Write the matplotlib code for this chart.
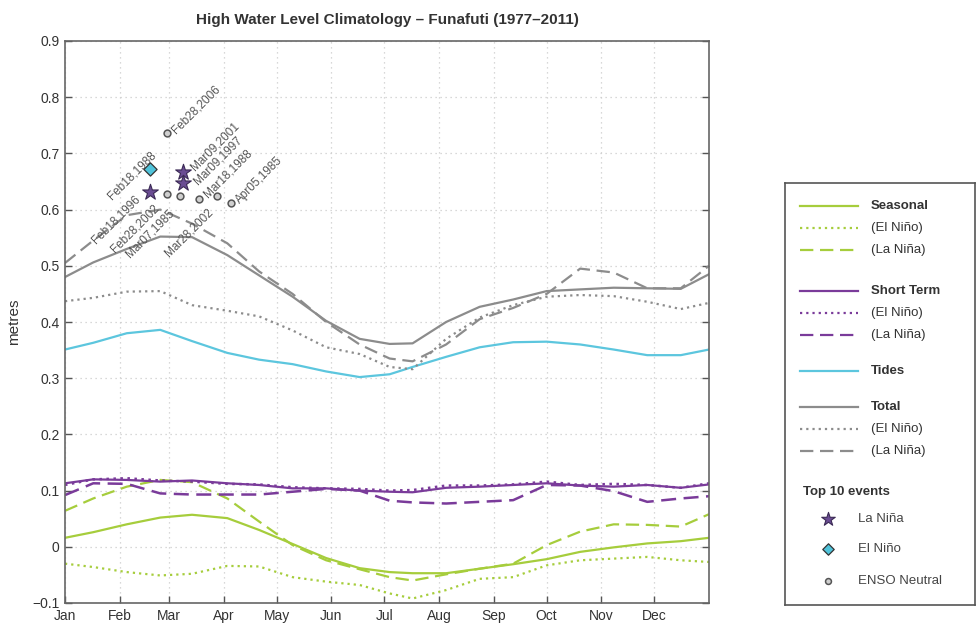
import matplotlib.pyplot as plt
from matplotlib.lines import Line2D

plt.rcParams['font.family'] = ['Liberation Sans', 'DejaVu Sans']

# day of year (Jan 1 = 1) of each sample
days = [1, 17, 36, 55, 73, 93, 111, 130, 149, 168, 185, 198, 217, 236, 255, 274, 293, 312, 331, 350, 366]

total = [0.480, 0.506, 0.530, 0.552, 0.551, 0.519, 0.483, 0.445, 0.402, 0.370, 0.361, 0.362, 0.400, 0.427,
         0.440, 0.455, 0.458, 0.461, 0.460, 0.459, 0.485]
total_nino = [0.437, 0.443, 0.454, 0.455, 0.430, 0.420, 0.410, 0.385, 0.355, 0.343, 0.320, 0.316, 0.370, 0.408,
              0.430, 0.445, 0.448, 0.446, 0.436, 0.423, 0.434]
total_nina = [0.505, 0.545, 0.590, 0.600, 0.575, 0.540, 0.490, 0.450, 0.400, 0.360, 0.335, 0.330, 0.360, 0.405,
              0.425, 0.450, 0.495, 0.488, 0.460, 0.460, 0.500]
tides = [0.351, 0.363, 0.380, 0.386, 0.366, 0.345, 0.333, 0.325, 0.312, 0.302, 0.307, 0.320, 0.338, 0.355,
         0.364, 0.365, 0.360, 0.351, 0.341, 0.341, 0.351]
seasonal = [0.016, 0.026, 0.040, 0.052, 0.057, 0.051, 0.030, 0.005, -0.020, -0.038, -0.045, -0.047, -0.047, -0.039,
            -0.031, -0.022, -0.009, -0.001, 0.006, 0.010, 0.016]
seasonal_nino = [-0.030, -0.036, -0.045, -0.051, -0.048, -0.034, -0.035, -0.054, -0.062, -0.068, -0.083, -0.092,
                 -0.077, -0.057, -0.054, -0.033, -0.024, -0.021, -0.018, -0.024, -0.027]
seasonal_nina = [0.064, 0.086, 0.107, 0.119, 0.115, 0.086, 0.045, 0.003, -0.024, -0.040, -0.054, -0.060, -0.049,
                 -0.039, -0.030, 0.003, 0.027, 0.040, 0.039, 0.036, 0.058]
short = [0.113, 0.120, 0.119, 0.116, 0.118, 0.113, 0.110, 0.104, 0.104, 0.100, 0.098, 0.097, 0.105, 0.107,
         0.110, 0.113, 0.109, 0.107, 0.110, 0.105, 0.111]
short_nino = [0.110, 0.120, 0.122, 0.118, 0.116, 0.112, 0.111, 0.106, 0.104, 0.103, 0.100, 0.101, 0.109, 0.109,
              0.111, 0.116, 0.110, 0.112, 0.110, 0.105, 0.113]
short_nina = [0.092, 0.113, 0.112, 0.095, 0.093, 0.093, 0.093, 0.098, 0.103, 0.100, 0.082, 0.079, 0.077, 0.080,
              0.083, 0.110, 0.109, 0.099, 0.080, 0.086, 0.090]

# top 10 events
ev_labels = ['Feb18,1988', 'Feb18,1996', 'Mar09,2001', 'Mar09,1997', 'Feb28,2006',
             'Feb28,2002', 'Mar07,1985', 'Mar18,1988', 'Mar28,2002', 'Apr05,1985']
ev_days = [49, 49, 68, 68, 59, 59, 66, 77, 87, 95]
ev_vals = [0.673, 0.631, 0.667, 0.647, 0.736, 0.628, 0.625, 0.619, 0.625, 0.611]
ev_type = ['nino', 'nina', 'nina', 'nina', 'neutral', 'neutral', 'neutral', 'neutral', 'neutral', 'neutral']

months = ['Jan', 'Feb', 'Mar', 'Apr', 'May', 'Jun', 'Jul', 'Aug', 'Sep', 'Oct', 'Nov', 'Dec']
month_start = [1, 32, 60, 91, 121, 152, 182, 213, 244, 274, 305, 335]

green = '#a6cd3c'
purple = '#7a3b9a'
cyan = '#5cc6de'
gray = '#8c8c8c'
dot = (0, (1, 1.8))
dash = (0, (6, 3))

fig = plt.figure(figsize=(9.77, 6.25), dpi=100)
ax = fig.add_axes([65 / 977, 1 - 603 / 625, 644 / 977, 562 / 625])

lw = 1.6
ax.plot(days, seasonal_nino, color=green, lw=lw, ls=dot)
ax.plot(days, seasonal_nina, color=green, lw=lw, ls=dash)
ax.plot(days, seasonal, color=green, lw=lw)
ax.plot(days, short_nino, color=purple, lw=1.8, ls=dot)
ax.plot(days, short_nina, color=purple, lw=1.8, ls=dash)
ax.plot(days, short, color=purple, lw=lw)
ax.plot(days, tides, color=cyan, lw=lw)
ax.plot(days, total_nino, color=gray, lw=lw, ls=dot)
ax.plot(days, total_nina, color=gray, lw=lw, ls=dash)
ax.plot(days, total, color=gray, lw=lw)

styles = {
    'nina': dict(marker='*', s=140, facecolor='#6a4c93', edgecolor='#3b2a55', linewidth=0.8),
    'nino': dict(marker='D', s=45, facecolor='#4fc3da', edgecolor='#333333', linewidth=0.9),
    'neutral': dict(marker='o', s=24, facecolor='#cfcfcf', edgecolor='#555555', linewidth=1.1),
}
for k in styles:
    xs = [d for d, t in zip(ev_days, ev_type) if t == k]
    ys = [v for v, t in zip(ev_vals, ev_type) if t == k]
    ax.scatter(xs, ys, zorder=5, **styles[k])

# label placement: (offset in points, horizontal alignment)
ev_offsets = [((3, 11), 'right'), ((-8, -4), 'right'), ((7, 2), 'left'), ((9, 0), 'left'), ((5, 1), 'left'),
              ((-7, -9), 'right'), ((-5, -11), 'right'), ((5, 2), 'left'), ((-4, -11), 'right'), ((5, 1), 'left')]
for lab, d, v, (off, ha) in zip(ev_labels, ev_days, ev_vals, ev_offsets):
    ax.annotate(lab, (d, v), xytext=off, textcoords='offset points', rotation=45,
                rotation_mode='anchor', ha=ha, va='center', fontsize=8.5, color='#555555')

ax.set_xlim(1, 366)
ax.set_ylim(-0.1, 0.9)
ax.set_xticks(month_start)
ax.set_xticklabels(months)
ax.set_yticks([-0.1, 0, 0.1, 0.2, 0.3, 0.4, 0.5, 0.6, 0.7, 0.8, 0.9])
ax.set_yticklabels(['\u22120.1', '0', '0.1', '0.2', '0.3', '0.4', '0.5', '0.6', '0.7', '0.8', '0.9'])
ax.tick_params(direction='in', length=5, width=1, colors='#555555', labelcolor='#333333',
               labelsize=10, right=True, top=False, pad=4)
ax.grid(True, color='#cccccc', ls=(0, (1, 3)), lw=0.9)
for s in ax.spines.values():
    s.set_color('#666666')
    s.set_linewidth(1.2)
ax.set_ylabel('metres', fontsize=11, color='#333333', labelpad=8)
ax.set_title('High Water Level Climatology \u2013 Funafuti (1977\u20132011)',
             fontsize=11, fontweight='bold', color='#333333', pad=12)

# legend drawn in its own box, coordinates in figure pixels
lg = fig.add_axes([785 / 977, 1 - 605 / 625, 190 / 977, 422 / 625])
lg.set_xlim(785, 975)
lg.set_ylim(605, 183)
lg.set_xticks([])
lg.set_yticks([])
for s in lg.spines.values():
    s.set_color('#555555')
    s.set_linewidth(1.2)

line_rows = [
    (206, green, '-', 'Seasonal', True), (228, green, dot, '(El Ni\u00f1o)', False),
    (250, green, dash, '(La Ni\u00f1a)', False),
    (291, purple, '-', 'Short Term', True), (313, purple, dot, '(El Ni\u00f1o)', False),
    (335, purple, dash, '(La Ni\u00f1a)', False),
    (371, cyan, '-', 'Tides', True),
    (407, gray, '-', 'Total', True), (429, gray, dot, '(El Ni\u00f1o)', False),
    (451, gray, dash, '(La Ni\u00f1a)', False),
]
for y, c, ls, lab, bold in line_rows:
    lg.add_line(Line2D([800, 858], [y, y], color=c, ls=ls, lw=lw))
    lg.text(871, y, lab, va='center', ha='left', fontsize=9.5, color='#333333',
            fontweight='bold' if bold else 'normal')

lg.text(803, 492, 'Top 10 events', va='center', ha='left', fontsize=9.5, fontweight='bold', color='#333333')
for y, k, lab in [(519, 'nina', 'La Ni\u00f1a'), (549, 'nino', 'El Ni\u00f1o'), (581, 'neutral', 'ENSO Neutral')]:
    st = dict(styles[k])
    st['s'] = st['s'] * 0.75
    lg.scatter([828], [y], **st)
    lg.text(858, y, lab, va='center', ha='left', fontsize=9.5, color='#444444')

fig.savefig('out.png', dpi=100)
